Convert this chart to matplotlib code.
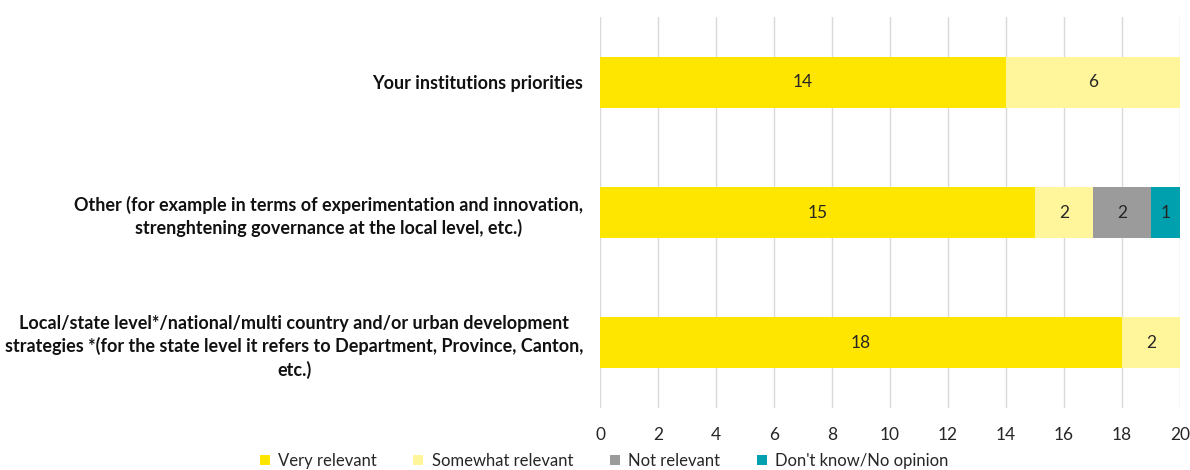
import matplotlib
matplotlib.use("Agg")
import matplotlib.pyplot as plt
import numpy as np

plt.rcParams['font.family'] = ['Lato', 'DejaVu Sans']

categories = [
    "Your institutions priorities",
    "Other (for example in terms of experimentation and innovation,\nstrenghtening governance at the local level, etc.)",
    "Local/state level*/national/multi country and/or urban development\nstrategies *(for the state level it refers to Department, Province, Canton,\netc.)",
]
series_names = ["Very relevant", "Somewhat relevant", "Not relevant", "Don't know/No opinion"]
very_relevant = [14, 15, 18]
somewhat_relevant = [6, 2, 2]
not_relevant = [0, 2, 0]
dont_know = [0, 1, 0]
colors = ["#FFE600", "#FFF59B", "#9B9B9B", "#00A0AF"]
x_ticks = [0, 2, 4, 6, 8, 10, 12, 14, 16, 18, 20]

fig = plt.figure(figsize=(11.9, 4.7), dpi=100)
ax = fig.add_axes([600 / 1190, 1 - 408 / 470, 580 / 1190, 391 / 470])

y = np.arange(len(categories))
left = np.zeros(len(categories))
for name, vals, col in zip(series_names,
                           [very_relevant, somewhat_relevant, not_relevant, dont_know],
                           colors):
    vals = np.array(vals, dtype=float)
    bars = ax.barh(y, vals, left=left, height=0.39, color=col, label=name, zorder=3)
    for b, v in zip(bars, vals):
        if v > 0:
            ax.text(b.get_x() + b.get_width() / 2, b.get_y() + b.get_height() / 2,
                    f"{int(v)}", ha="center", va="center", fontsize=12.5,
                    color="#262626", zorder=4)
    left += vals

ax.set_xlim(0, 20)
ax.set_ylim(2.5, -0.5)
ax.set_xticks(x_ticks)
ax.set_xticklabels([str(t) for t in x_ticks], fontsize=12.5, color="#262626")
ax.set_yticks(y)
ax.set_yticklabels(categories, fontsize=13, fontweight="bold", color="#111111",
                   multialignment="center", linespacing=1.35)
ax.tick_params(axis="both", length=0)
ax.tick_params(axis="y", pad=12)
ax.tick_params(axis="x", pad=14)
ax.grid(axis="x", color="#D9D9D9", linewidth=1, zorder=0)
for s in ax.spines.values():
    s.set_visible(False)

handles, labels = ax.get_legend_handles_labels()
fig.legend(handles, labels, loc="center", bbox_to_anchor=(604 / 1190, 9 / 470),
           ncol=4, frameon=False, fontsize=12, handlelength=0.6, handleheight=0.6,
           handletextpad=0.5, columnspacing=2.2, labelcolor="#262626")

fig.savefig("out.png", dpi=100)
